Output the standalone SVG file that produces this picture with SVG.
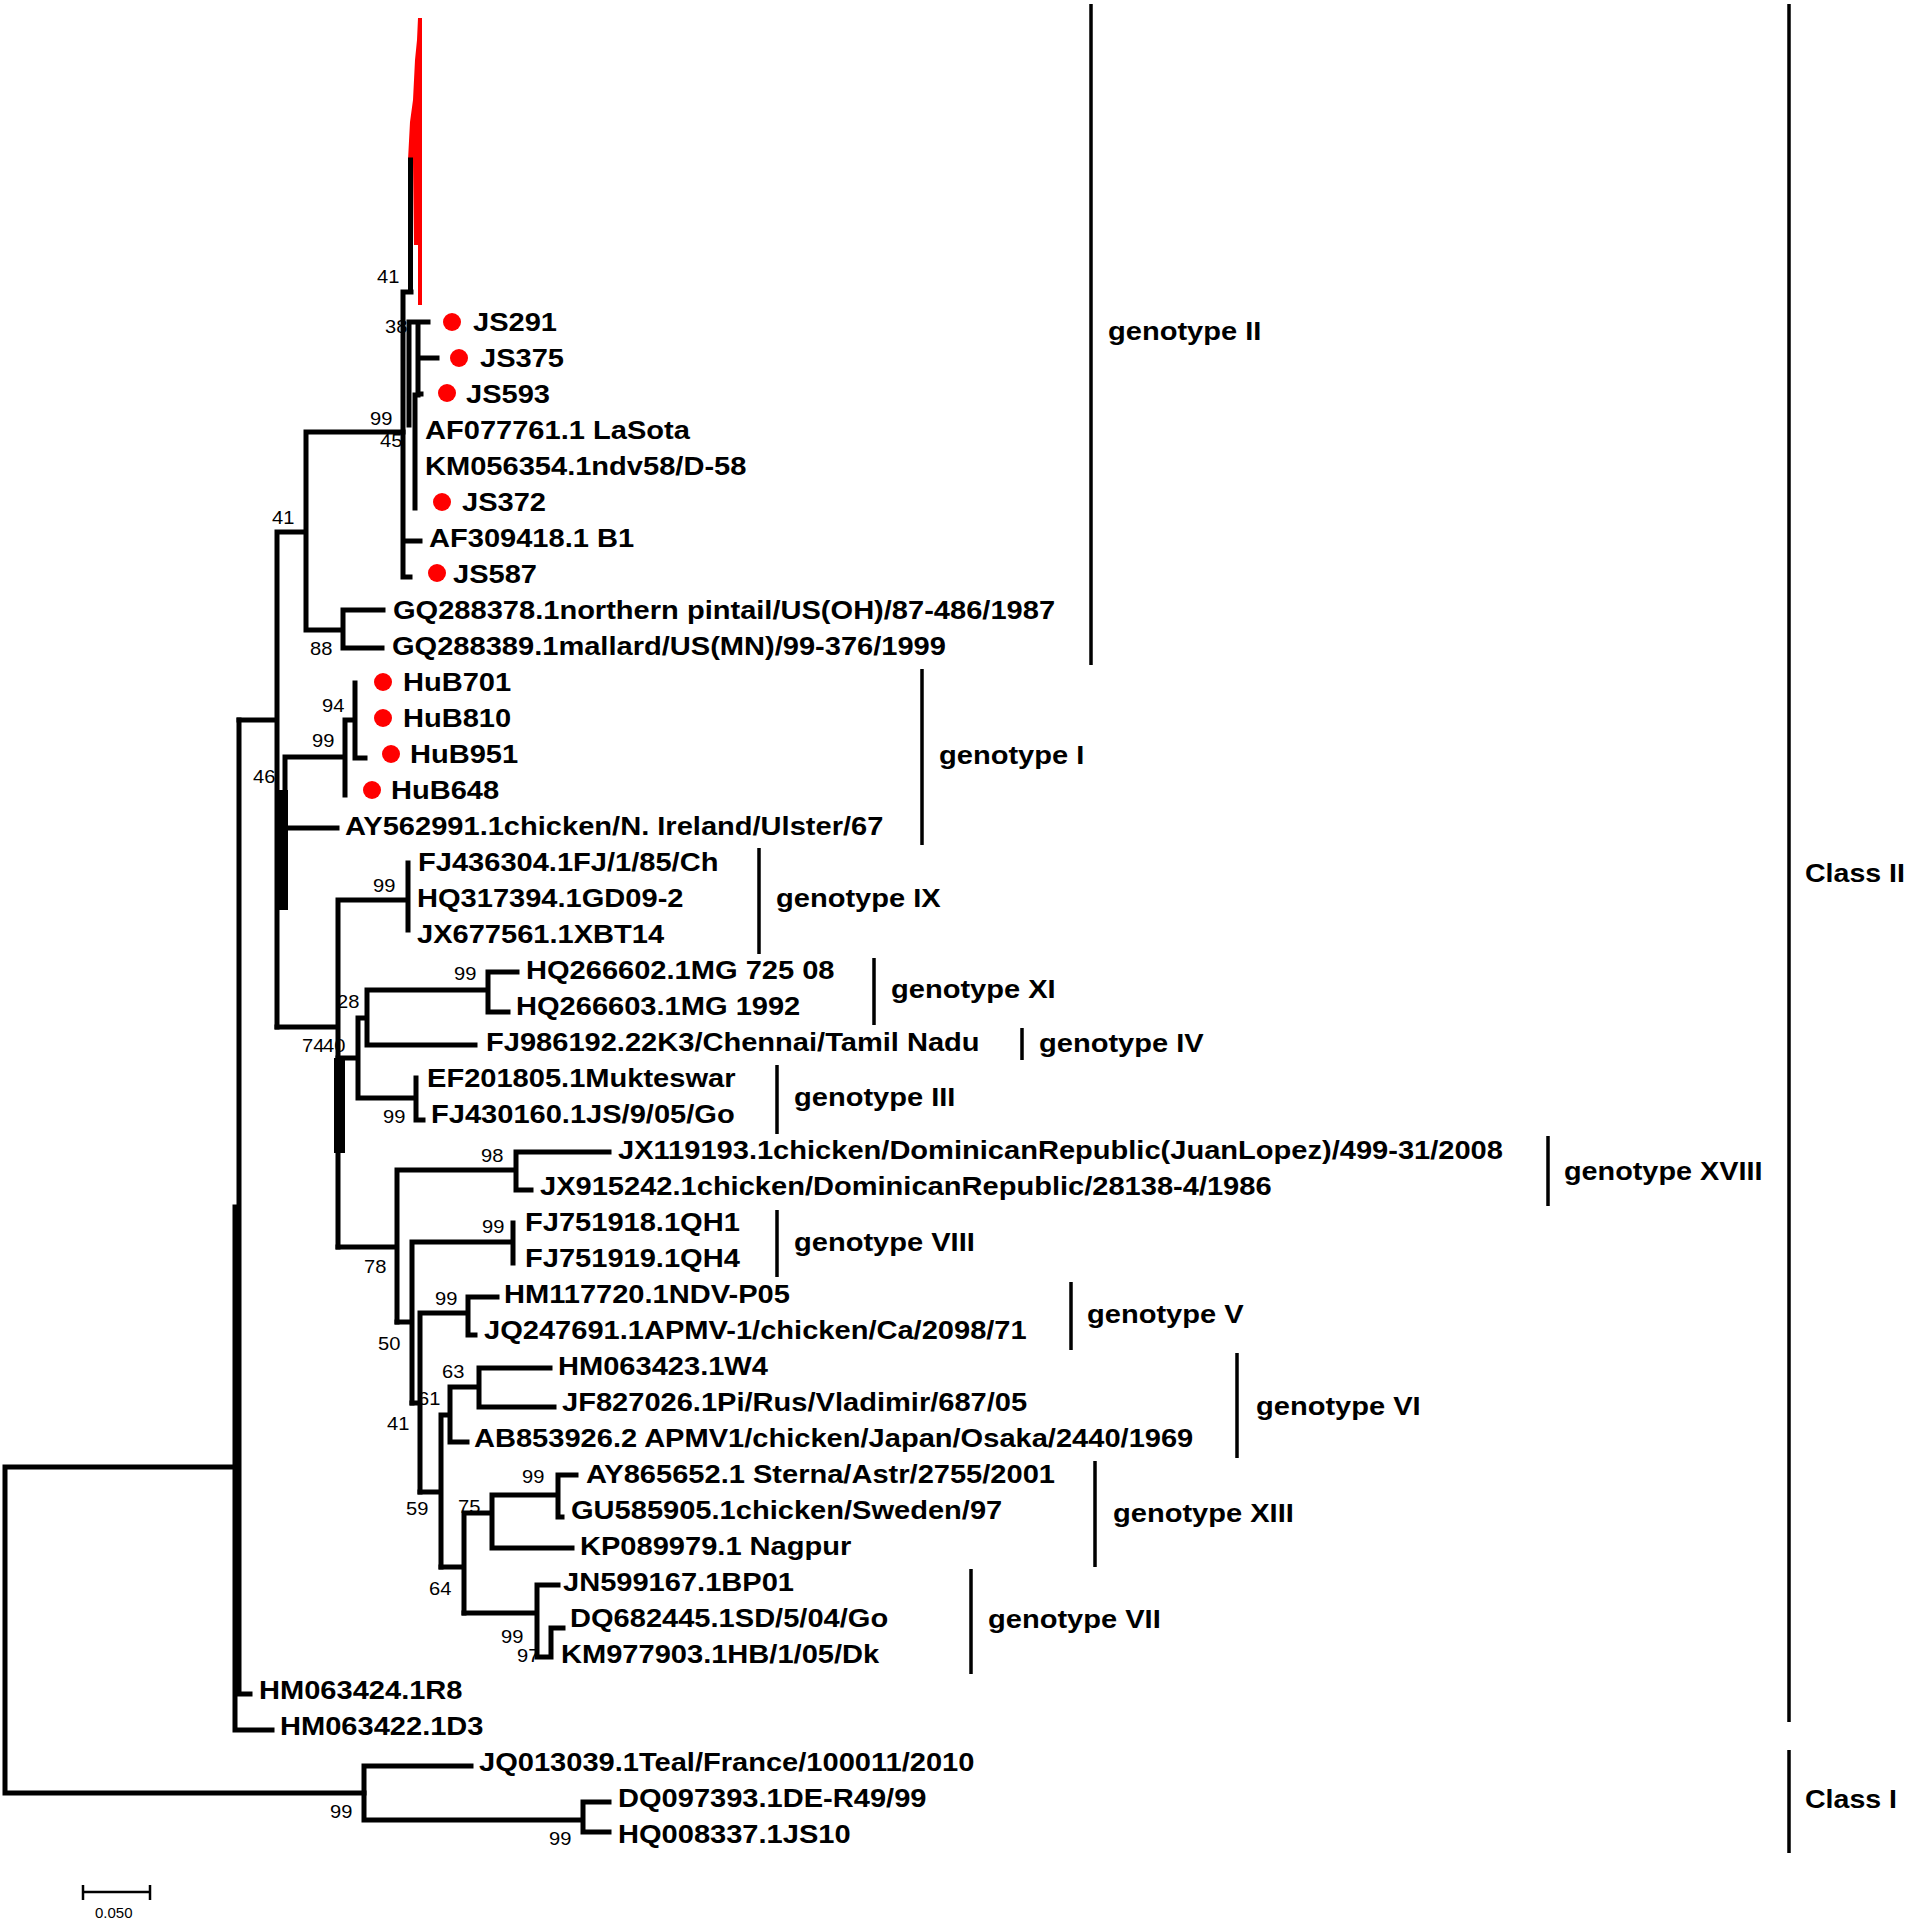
<svg xmlns="http://www.w3.org/2000/svg" width="1907" height="1922" viewBox="0 0 1907 1922">
<style>
.br{stroke:#000;stroke-width:5;fill:none;stroke-linecap:square;stroke-linejoin:miter}
.bk{stroke:#000;stroke-width:3.5;fill:none}
.lb{font-family:"Liberation Sans",Arial,sans-serif;font-weight:bold;font-size:25.5px;fill:#000}
.bs{font-family:"Liberation Sans",Arial,sans-serif;font-size:17.5px;fill:#000}
.dot{fill:#ff0000}
</style>
<rect width="1907" height="1922" fill="#fff"/>
<g id="bootstrap">
<text class="bs" transform="translate(377 283) scale(1.15 1)">41</text>
<text class="bs" transform="translate(385 333) scale(1.15 1)">38</text>
<text class="bs" transform="translate(370 425) scale(1.15 1)">99</text>
<text class="bs" transform="translate(380 447) scale(1.15 1)">45</text>
<text class="bs" transform="translate(272 524) scale(1.15 1)">41</text>
<text class="bs" transform="translate(310 655) scale(1.15 1)">88</text>
<text class="bs" transform="translate(322 712) scale(1.15 1)">94</text>
<text class="bs" transform="translate(312 747) scale(1.15 1)">99</text>
<text class="bs" transform="translate(253 783) scale(1.15 1)">46</text>
<text class="bs" transform="translate(373 892) scale(1.15 1)">99</text>
<text class="bs" transform="translate(454 980) scale(1.15 1)">99</text>
<text class="bs" transform="translate(337 1008) scale(1.15 1)">28</text>
<text class="bs" transform="translate(302 1052) scale(1.15 1)">74</text>
<text class="bs" transform="translate(323 1052) scale(1.15 1)">40</text>
<text class="bs" transform="translate(383 1123) scale(1.15 1)">99</text>
<text class="bs" transform="translate(481 1162) scale(1.15 1)">98</text>
<text class="bs" transform="translate(482 1233) scale(1.15 1)">99</text>
<text class="bs" transform="translate(364 1273) scale(1.15 1)">78</text>
<text class="bs" transform="translate(435 1305) scale(1.15 1)">99</text>
<text class="bs" transform="translate(378 1350) scale(1.15 1)">50</text>
<text class="bs" transform="translate(442 1378) scale(1.15 1)">63</text>
<text class="bs" transform="translate(418 1405) scale(1.15 1)">61</text>
<text class="bs" transform="translate(387 1430) scale(1.15 1)">41</text>
<text class="bs" transform="translate(522 1483) scale(1.15 1)">99</text>
<text class="bs" transform="translate(458 1513) scale(1.15 1)">75</text>
<text class="bs" transform="translate(406 1515) scale(1.15 1)">59</text>
<text class="bs" transform="translate(429 1595) scale(1.15 1)">64</text>
<text class="bs" transform="translate(501 1643) scale(1.15 1)">99</text>
<text class="bs" transform="translate(517 1662) scale(1.15 1)">97</text>
<text class="bs" transform="translate(330 1818) scale(1.15 1)">99</text>
<text class="bs" transform="translate(549 1845) scale(1.15 1)">99</text>
</g>
<g id="connectors">
<polygon fill="#ff0000" points="418,18 422,18 422,305 418,305 418,245 414,245 413,162 408,160 410,122 413,100 415,60 417,40"/>
<path class="br" d="M5,1467V1793M5,1467H235M5,1793H364"/>
<path class="br" d="M239,720V1694M235,1207H239M239,1694H250M235,1207V1730H272"/>
<path class="br" d="M239,720H277M277,532V1027M277,532H306M306,432V630M306,432H403M306,630H343M343,610V648M343,610H383M343,648H382"/>
<path class="br" d="M403,292V577M403,292H411M410.5,160V292M409,322V425M409,322H428M418,322V395M418,358H437M418,394H421M415,395V508M403,541H420M403,577H410"/>
<rect x="275" y="790" width="13" height="120" fill="#000"/>
<path class="br" d="M285,757V828H337M285,757H345M345,720V795M345,720H355M355,683V758H365"/>
<path class="br" d="M277,1027H338M338,900V1247M338,900H408M408,863V930"/>
<rect x="334" y="1058" width="11" height="95" fill="#000"/>
<path class="br" d="M338,1058H358M358,1018V1098M358,1018H367M367,990V1045H475M367,990H488M488,972V1012M488,972H517M488,1012H508M358,1098H416M416,1078V1120H423"/>
<path class="br" d="M338,1247H397M397,1170V1322M397,1170H516M516,1152V1190H531M516,1152H609"/>
<path class="br" d="M397,1322H412M412,1242V1403M412,1242H513M513,1223V1263"/>
<path class="br" d="M412,1403H420M420,1313V1492M420,1313H468M468,1297V1335H475M468,1297H497"/>
<path class="br" d="M420,1492H441M441,1415V1567M441,1415H450M450,1387V1442H467M450,1387H479M479,1368V1407H554M479,1368H550"/>
<path class="br" d="M441,1567H464M464,1513V1613M464,1513H492M492,1495V1548H572M492,1495H558M558,1475V1517H562M558,1475H576"/>
<path class="br" d="M464,1613H537M537,1585V1657H551M537,1585H558M551,1628V1657M551,1628H563"/>
<path class="br" d="M364,1766V1820M364,1766H471M364,1820H583M583,1802V1832H609M583,1802H609"/>
<path d="M83,1892H150M83,1885V1900M150,1885V1900" stroke="#000" stroke-width="2.5" fill="none"/>
</g>
<g id="brackets">
<path class="bk" d="M1091,4V665M1789,4V1722M922,669V845M759,848V954M874,958V1025M1022,1028V1060M777,1065V1134M1548,1136V1206M777,1210V1277M1071,1282V1350M1237,1353V1458M1095,1461V1567M971,1569V1674M1789,1750V1853"/>
</g>
<g id="JS291"><circle class="dot" cx="452" cy="322" r="9"/><text class="lb" transform="translate(473 331) scale(1.14 1)">JS291</text></g>
<g id="JS375"><circle class="dot" cx="459" cy="358" r="9"/><text class="lb" transform="translate(480 367) scale(1.14 1)">JS375</text></g>
<g id="JS593"><circle class="dot" cx="447" cy="393" r="9"/><text class="lb" transform="translate(466 403) scale(1.14 1)">JS593</text></g>
<g id="AF077761"><text class="lb" transform="translate(425 439) scale(1.14 1)">AF077761.1 LaSota</text></g>
<g id="KM056354"><text class="lb" transform="translate(425 475) scale(1.14 1)">KM056354.1ndv58/D-58</text></g>
<g id="JS372"><circle class="dot" cx="442" cy="502" r="9"/><text class="lb" transform="translate(462 511) scale(1.14 1)">JS372</text></g>
<g id="AF309418"><text class="lb" transform="translate(429 547) scale(1.14 1)">AF309418.1 B1</text></g>
<g id="JS587"><circle class="dot" cx="437" cy="573" r="9"/><text class="lb" transform="translate(453 583) scale(1.14 1)">JS587</text></g>
<g id="GQ288378"><text class="lb" transform="translate(393 619) scale(1.14 1)">GQ288378.1northern pintail/US(OH)/87-486/1987</text></g>
<g id="GQ288389"><text class="lb" transform="translate(392 655) scale(1.14 1)">GQ288389.1mallard/US(MN)/99-376/1999</text></g>
<g id="HuB701"><circle class="dot" cx="383" cy="682" r="9"/><text class="lb" transform="translate(403 691) scale(1.14 1)">HuB701</text></g>
<g id="HuB810"><circle class="dot" cx="383" cy="718" r="9"/><text class="lb" transform="translate(403 727) scale(1.14 1)">HuB810</text></g>
<g id="HuB951"><circle class="dot" cx="391" cy="754" r="9"/><text class="lb" transform="translate(410 763) scale(1.14 1)">HuB951</text></g>
<g id="HuB648"><circle class="dot" cx="372" cy="790" r="9"/><text class="lb" transform="translate(391 799) scale(1.14 1)">HuB648</text></g>
<g id="AY562991"><text class="lb" transform="translate(345 835) scale(1.14 1)">AY562991.1chicken/N. Ireland/Ulster/67</text></g>
<g id="FJ436304"><text class="lb" transform="translate(418 871) scale(1.14 1)">FJ436304.1FJ/1/85/Ch</text></g>
<g id="HQ317394"><text class="lb" transform="translate(417 907) scale(1.14 1)">HQ317394.1GD09-2</text></g>
<g id="JX677561"><text class="lb" transform="translate(417 943) scale(1.14 1)">JX677561.1XBT14</text></g>
<g id="HQ266602"><text class="lb" transform="translate(526 979) scale(1.14 1)">HQ266602.1MG 725 08</text></g>
<g id="HQ266603"><text class="lb" transform="translate(516 1015) scale(1.14 1)">HQ266603.1MG 1992</text></g>
<g id="FJ986192"><text class="lb" transform="translate(486 1051) scale(1.14 1)">FJ986192.22K3/Chennai/Tamil Nadu</text></g>
<g id="EF201805"><text class="lb" transform="translate(427 1087) scale(1.14 1)">EF201805.1Mukteswar</text></g>
<g id="FJ430160"><text class="lb" transform="translate(431 1123) scale(1.14 1)">FJ430160.1JS/9/05/Go</text></g>
<g id="JX119193"><text class="lb" transform="translate(618 1159) scale(1.14 1)">JX119193.1chicken/DominicanRepublic(JuanLopez)/499-31/2008</text></g>
<g id="JX915242"><text class="lb" transform="translate(540 1195) scale(1.14 1)">JX915242.1chicken/DominicanRepublic/28138-4/1986</text></g>
<g id="FJ751918"><text class="lb" transform="translate(525 1231) scale(1.14 1)">FJ751918.1QH1</text></g>
<g id="FJ751919"><text class="lb" transform="translate(525 1267) scale(1.14 1)">FJ751919.1QH4</text></g>
<g id="HM117720"><text class="lb" transform="translate(504 1303) scale(1.14 1)">HM117720.1NDV-P05</text></g>
<g id="JQ247691"><text class="lb" transform="translate(484 1339) scale(1.14 1)">JQ247691.1APMV-1/chicken/Ca/2098/71</text></g>
<g id="HM063423"><text class="lb" transform="translate(558 1375) scale(1.14 1)">HM063423.1W4</text></g>
<g id="JF827026"><text class="lb" transform="translate(562 1411) scale(1.14 1)">JF827026.1Pi/Rus/Vladimir/687/05</text></g>
<g id="AB853926"><text class="lb" transform="translate(474 1447) scale(1.14 1)">AB853926.2 APMV1/chicken/Japan/Osaka/2440/1969</text></g>
<g id="AY865652"><text class="lb" transform="translate(586 1483) scale(1.14 1)">AY865652.1 Sterna/Astr/2755/2001</text></g>
<g id="GU585905"><text class="lb" transform="translate(571 1519) scale(1.14 1)">GU585905.1chicken/Sweden/97</text></g>
<g id="KP089979"><text class="lb" transform="translate(580 1555) scale(1.14 1)">KP089979.1 Nagpur</text></g>
<g id="JN599167"><text class="lb" transform="translate(563 1591) scale(1.14 1)">JN599167.1BP01</text></g>
<g id="DQ682445"><text class="lb" transform="translate(570 1627) scale(1.14 1)">DQ682445.1SD/5/04/Go</text></g>
<g id="KM977903"><text class="lb" transform="translate(561 1663) scale(1.14 1)">KM977903.1HB/1/05/Dk</text></g>
<g id="HM063424"><text class="lb" transform="translate(259 1699) scale(1.14 1)">HM063424.1R8</text></g>
<g id="HM063422"><text class="lb" transform="translate(280 1735) scale(1.14 1)">HM063422.1D3</text></g>
<g id="JQ013039"><text class="lb" transform="translate(479 1771) scale(1.14 1)">JQ013039.1Teal/France/100011/2010</text></g>
<g id="DQ097393"><text class="lb" transform="translate(618 1807) scale(1.14 1)">DQ097393.1DE-R49/99</text></g>
<g id="HQ008337"><text class="lb" transform="translate(618 1843) scale(1.14 1)">HQ008337.1JS10</text></g>
<g id="group-labels">
<text class="lb" transform="translate(1108 340) scale(1.14 1)">genotype II</text>
<text class="lb" transform="translate(1805 882) scale(1.12 1)">Class II</text>
<text class="lb" transform="translate(939 764) scale(1.14 1)">genotype I</text>
<text class="lb" transform="translate(776 907) scale(1.14 1)">genotype IX</text>
<text class="lb" transform="translate(891 998) scale(1.14 1)">genotype XI</text>
<text class="lb" transform="translate(1039 1052) scale(1.14 1)">genotype IV</text>
<text class="lb" transform="translate(794 1106) scale(1.14 1)">genotype III</text>
<text class="lb" transform="translate(1564 1180) scale(1.13 1)">genotype XVIII</text>
<text class="lb" transform="translate(794 1251) scale(1.14 1)">genotype VIII</text>
<text class="lb" transform="translate(1087 1323) scale(1.14 1)">genotype V</text>
<text class="lb" transform="translate(1256 1415) scale(1.14 1)">genotype VI</text>
<text class="lb" transform="translate(1113 1522) scale(1.14 1)">genotype XIII</text>
<text class="lb" transform="translate(988 1628) scale(1.14 1)">genotype VII</text>
<text class="lb" transform="translate(1805 1808) scale(1.12 1)">Class I</text>
</g>
<text class="bs" x="95" y="1918" style="font-size:15px">0.050</text>
</svg>
